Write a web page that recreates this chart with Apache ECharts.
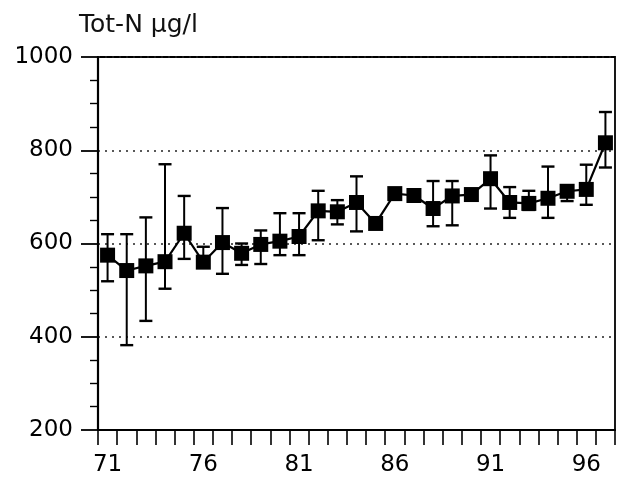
<!DOCTYPE html>
<html>
<head>
<meta charset="utf-8">
<script src="https://cdn.jsdelivr.net/npm/echarts@6/dist/echarts.min.js"></script>
<style>
  html, body { margin: 0; padding: 0; background: #fff; }
  #chart { width: 617px; height: 477px; }
</style>
</head>
<body>
<div id="chart"></div>
<script>
// Total nitrogen, yearly means with min/max whiskers (µg/l)
var years = ['71','72','73','74','75','76','77','78','79','80','81','82','83','84',
             '85','86','87','88','89','90','91','92','93','94','95','96','97'];
var meanN = [575, 542, 552, 561, 622, 560, 602, 579, 598, 605, 615, 670, 668, 688,
             643, 707, 703, 675, 702, 705, 739, 688, 686, 697, 712, 716, 816];
var highN = [620, 620, 656, 770, 702, 593, 676, 600, 628, 665, 665, 713, 693, 744,
             null, null, null, 734, 734, null, 789, 721, 713, 765, 725, 769, 882];
var lowN  = [519, 382, 434, 503, 567, 548, 535, 554, 556, 575, 575, 607, 641, 626,
             null, null, null, 637, 639, null, 675, 655, 672, 655, 691, 683, 763];
var yTicks = [200, 400, 600, 800, 1000];

var whiskers = [];
for (var i = 0; i < years.length; i++) {
  if (highN[i] != null && lowN[i] != null) whiskers.push([i, lowN[i], highN[i]]);
}

var font = 'DejaVu Sans';
var chart = echarts.init(document.getElementById('chart'));
chart.setOption({
  animation: false,
  backgroundColor: '#fff',
  title: {
    text: 'Tot-N µg/l',
    left: 79, top: 13, padding: 0,
    textStyle: { fontFamily: font, fontSize: 25, fontWeight: 'normal', color: '#111' }
  },
  grid: {
    left: 98, right: 2, top: 57, bottom: 41,
    show: true, borderColor: '#000', borderWidth: 1.8, backgroundColor: 'transparent'
  },
  xAxis: {
    type: 'category',
    data: years,
    boundaryGap: true,
    axisLine: { lineStyle: { color: '#000', width: 2 } },
    axisTick: { show: true, interval: 0, length: 15, lineStyle: { color: '#000', width: 1.6 } },
    axisLabel: {
      interval: 4, margin: 24, color: '#000',
      fontFamily: font, fontSize: 23
    },
    splitLine: { show: false }
  },
  yAxis: {
    type: 'value',
    min: yTicks[0], max: yTicks[yTicks.length - 1], interval: 200,
    axisLine: { show: true, lineStyle: { color: '#000', width: 2.2 } },
    axisTick: { show: true, length: 17, lineStyle: { color: '#000', width: 1.8 } },
    minorTick: { show: true, splitNumber: 4, length: 8, lineStyle: { color: '#000', width: 1.4 } },
    axisLabel: {
      margin: 25, color: '#000', fontFamily: font, fontSize: 23,
      formatter: function (v) { return yTicks.indexOf(v) >= 0 ? String(v) : ''; }
    },
    splitLine: { show: true, lineStyle: { color: '#222', width: 1.5, type: [2, 5] } }
  },
  series: [
    {
      type: 'custom',
      data: whiskers,
      z: 2,
      renderItem: function (params, api) {
        var x = api.value(0);
        var lo = api.coord([x, api.value(1)]);
        var hi = api.coord([x, api.value(2)]);
        var half = 6.5;
        var stem = { stroke: '#000', lineWidth: 2 };
        var cap = { stroke: '#000', lineWidth: 2.4 };
        return {
          type: 'group',
          children: [
            { type: 'line', shape: { x1: lo[0], y1: lo[1], x2: hi[0], y2: hi[1] }, style: stem },
            { type: 'line', shape: { x1: hi[0] - half, y1: hi[1], x2: hi[0] + half, y2: hi[1] }, style: cap },
            { type: 'line', shape: { x1: lo[0] - half, y1: lo[1], x2: lo[0] + half, y2: lo[1] }, style: cap }
          ]
        };
      }
    },
    {
      type: 'line',
      data: meanN,
      z: 3,
      symbol: 'rect',
      symbolSize: 15,
      showAllSymbol: true,
      lineStyle: { color: '#000', width: 2.2 },
      itemStyle: { color: '#000' }
    }
  ]
});
</script>
</body>
</html>
